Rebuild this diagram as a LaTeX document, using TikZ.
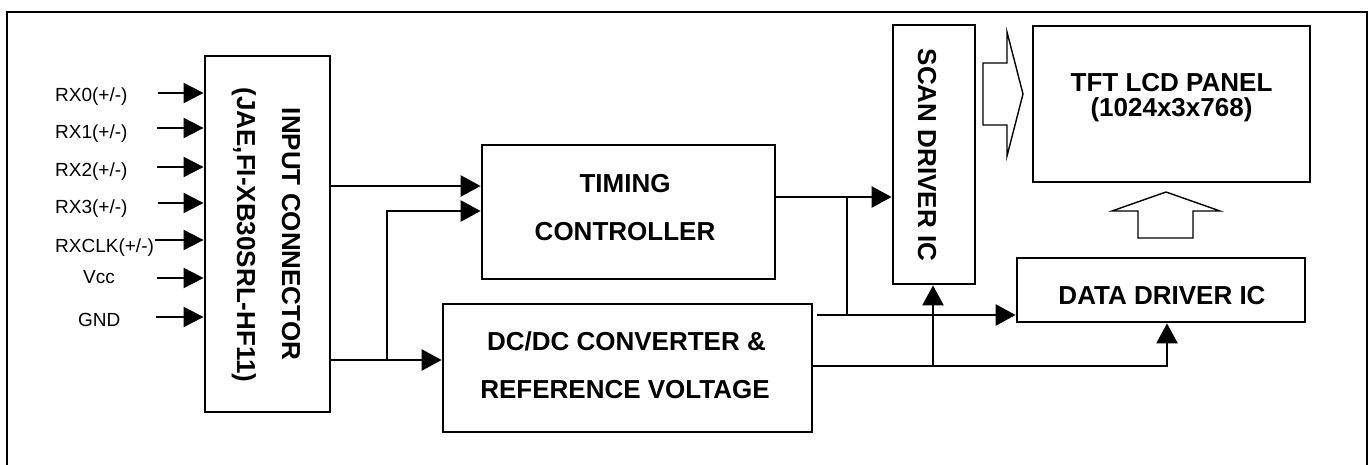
\documentclass[tikz,border=0pt]{standalone}
\usepackage{fontspec}
\setmainfont{Liberation Sans}
\usetikzlibrary{arrows.meta}
\begin{document}
\begin{tikzpicture}[x=1pt,y=-1pt,
  box/.style={draw, line width=2.8pt, inner sep=0pt},
  arr/.style={line width=2.6pt, -{Triangle[length=20pt,width=21pt]}},
  inarr/.style={line width=2pt, -{Triangle[length=20pt,width=20pt]}},
  wire/.style={line width=2.6pt},
  hollow/.style={draw, line width=1.4pt, line join=miter},
  sig/.style={font=\fontsize{19}{22}\selectfont, inner sep=0pt, anchor=base west},
  bt/.style={font=\fontsize{26}{25}\selectfont\bfseries, inner sep=0pt, anchor=base},
  vbt/.style={bt, rotate=-90},
]
\useasboundingbox (0,0) rectangle (1372,465);
% outer frame
\draw[line width=2pt] (6.5,470) -- (6.5,11.7) -- (1366.5,11.7) -- (1366.5,470);

% boxes
\node[box, minimum width=125pt, minimum height=356pt] (inconn) at (267.5,234) {};
\node[box, minimum width=293pt, minimum height=134pt] (timing) at (628.5,212) {};
\node[box, minimum width=369pt, minimum height=128pt] (dcdc) at (627.5,368) {};
\node[box, minimum width=82pt, minimum height=259pt] (scan) at (934,154.5) {};
\node[box, minimum width=277pt, minimum height=156pt] (tft) at (1171.5,104) {};
\node[box, minimum width=288pt, minimum height=64pt] (data) at (1161,290) {};

% box texts
\node[vbt] (inconnA) at (282,234) {INPUT CONNECTOR};
\node[vbt] (inconnB) at (237,235) {(JAE,FI-XB30SRL-HF11)};
\node[bt] (timA) at (625,193) {TIMING};
\node[bt] (timB) at (625,240) {CONTROLLER};
\node[bt] (dcA) at (626.5,350) {DC/DC CONVERTER \&};
\node[bt] (dcB) at (625,398) {REFERENCE VOLTAGE};
\node[vbt] (scanT) at (918,155) {SCAN DRIVER IC};
\node[bt] (tftA) at (1171.5,92) {TFT LCD PANEL};
\node[bt] (tftB) at (1171.5,117) {(1024x3x768)};
\node[bt] (dataT) at (1162,304) {DATA DRIVER IC};

% input signals
\node[sig] (l0) at (55,101.5) {RX0(+/-)};
\node[sig] (l1) at (55,139) {RX1(+/-)};
\node[sig] (l2) at (55,177) {RX2(+/-)};
\node[sig] (l3) at (55,213) {RX3(+/-)};
\node[sig] (l4) at (55,252) {RXCLK(+/-)};
\node[sig] (l5) at (83,283) {Vcc};
\node[sig] (l6) at (78,326) {GND};
\coordinate (s0) at (158,93);
\coordinate (s1) at (157,128);
\coordinate (s2) at (157,167);
\coordinate (s3) at (158,203);
\coordinate (s4) at (155,240);
\coordinate (s5) at (157,278);
\coordinate (s6) at (156,317);
\foreach \s in {s0,s1,s2,s3,s4,s5,s6}
  \draw[inarr] (\s) -- (\s -| inconn.west);

% connectors
\coordinate (c1) at (0,186);
\draw[arr] (inconn.east |- c1) -- (timing.west |- c1);
\coordinate (c2) at (387,211);
\coordinate (c3) at (387,360);
\draw[arr] (inconn.east |- c3) -- (dcdc.west |- c3);
\draw[arr] (c3) -- (c2) -- (timing.west |- c2);
\coordinate (c4) at (0,197);
\draw[arr] (timing.east |- c4) -- (scan.west |- c4);
\coordinate (c5) at (847,197);
\coordinate (c6) at (847,315);
\coordinate (c7) at (817,315);
\draw[wire] (c5) -- (c6);
\draw[arr] (c7) -- (data.west |- c7);
\coordinate (c8) at (0,366);
\coordinate (c9) at (1167,366);
\draw[arr] (dcdc.east |- c8) -- (c9) -- (c9 |- data.south);
\coordinate (c10) at (933,366);
\draw[arr] (c10) -- (c10 |- scan.south);

% hollow arrows
\draw[hollow] (983,63) -- (1007,63) -- (1007,32) -- (1023,94) -- (1007,156) -- (1007,125) -- (983,125) -- cycle;
\draw[hollow] (1138,238) -- (1138,211) -- (1112,211) -- (1166,192) -- (1220,211) -- (1193,211) -- (1193,238) -- cycle;
\end{tikzpicture}
\end{document}
